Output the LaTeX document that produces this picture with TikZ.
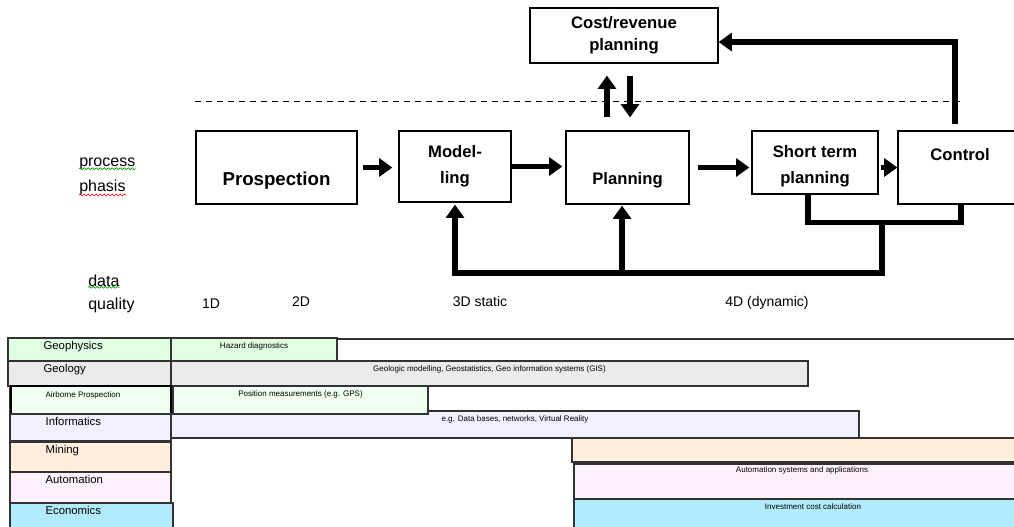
\documentclass[tikz,border=0pt]{standalone}
\usepackage{fontspec}
\setmainfont{Liberation Sans}
\usepackage{xcolor}
\usetikzlibrary{arrows.meta,positioning,decorations.pathmorphing}
\definecolor{cGeoph}{RGB}{224,255,224}
\definecolor{cGeol}{RGB}{235,235,235}
\definecolor{cAir}{RGB}{240,255,240}
\definecolor{cInf}{RGB}{240,240,255}
\definecolor{cMin}{RGB}{255,238,222}
\definecolor{cAut}{RGB}{255,240,254}
\definecolor{cEco}{RGB}{178,236,252}

\begin{document}
\begin{tikzpicture}[x=0.75pt,y=-0.75pt,
  box/.style={draw,line width=0.9pt,align=center,inner sep=0pt,font=\bfseries\fontsize{12.5}{19.5}\selectfont},
  arr/.style={line width=4.2pt,-{Triangle[length=10pt,width=13.5pt]}},
  fb/.style={line width=4.2pt},
  txt/.style={font=\fontsize{12}{14}\selectfont,anchor=base west,inner sep=0pt},
  dq/.style={font=\fontsize{10.5}{12}\selectfont,anchor=base,inner sep=0pt},
  squig/.style={draw=#1,line width=0.5pt,decorate,decoration={snake,amplitude=0.7pt,segment length=3pt}},
  lab/.style={draw=black!80,line width=1pt,fill=#1,inner sep=0pt},
  lt/.style={anchor=north west,inner sep=3pt,xshift=24pt,font=\fontsize{8.5}{10}\selectfont},
  bt/.style={anchor=north,inner sep=4pt,font=\fontsize{6}{7}\selectfont}]
\useasboundingbox (0,0) rectangle (1014,526);

% process phases
\node[box,minimum width=141pt,minimum height=41.25pt,font=\bfseries\fontsize{12.5}{16.5}\selectfont] (cost) at (624,35.5) {Cost/revenue\\planning};
\node[box,minimum width=120.75pt,minimum height=54.75pt,font=\bfseries\fontsize{14}{19.5}\selectfont] (prosp) at (276.5,167.5) {\vphantom{l}\\Prospection};
\node[box,minimum width=84pt,minimum height=53.25pt] (model) at (455,166.5) {Model-\\ling};
\node[box,minimum width=92.25pt,minimum height=54.75pt] (plan) at (627.5,167.5) {\vphantom{l}\\Planning};
\node[box,minimum width=94.5pt,minimum height=47.25pt] (short) at (815,162.5) {\rule{0pt}{15pt}Short term\\planning};
\node[box,minimum width=93pt,minimum height=54.75pt] (ctrl) at (960,167.5) {Control\\\vphantom{l}};

\draw[line width=0.75pt,dash pattern=on 4.5pt off 3.75pt] (195,101) -- (963,101);

\draw[arr,shorten <=3.75pt,shorten >=4.5pt] (prosp.east) -- (prosp.east -| model.west);
\draw[arr,shorten >=2.25pt] (model.east) -- (model.east -| plan.west);
\draw[arr,shorten <=6pt,shorten >=1.5pt] (plan.east) -- (plan.east -| short.west);
\draw[arr,shorten <=1.5pt] (short.east |- ctrl.west) -- (ctrl.west);

\coordinate (up1) at ([xshift=-15.4pt]plan.north);
\coordinate (dn1) at ([xshift=1.9pt]plan.north);
\draw[arr,shorten <=9.75pt,shorten >=9pt] (up1) -- (up1 |- cost.south);
\draw[arr,shorten <=9pt,shorten >=9.75pt] (dn1 |- cost.south) -- (dn1);
\coordinate (cc) at ([xshift=-3.75pt,yshift=4.5pt]ctrl.north);
\draw[arr] (cc) |- ([yshift=-4.9pt]cost.east);

% feedback
\coordinate (s1) at ([xshift=-5.25pt]short.south);
\draw[fb] (s1) -- ++(0,28) -| ([xshift=0.75pt]ctrl.south);
\coordinate (junc) at (882,222);
\coordinate (bot) at (882,273);
\coordinate (pl) at ([xshift=-4.1pt]plan.south);
\draw[arr,shorten >=1.5pt] (junc) -- (bot) -| (model.south);
\draw[arr,shorten >=0.75pt] (pl |- bot) -- (pl);

% side labels
\node[txt] (proc) at (79,166) {process};
\node[txt] (phas) at (79,191) {phasis};
\node[txt] (data) at (88,286) {data};
\node[txt] (qual) at (88,309) {quality};
\draw[squig=green!60!black] ([yshift=-2pt]proc.base west) -- ([yshift=-2pt]proc.base east);
\draw[squig=red] ([yshift=-3pt]phas.base west) -- ([yshift=-3pt]phas.base east);
\draw[squig=green!60!black] ([yshift=-1pt]data.base west) -- ([yshift=-1pt]data.base east);
\node[dq] (d1) at (211,308) {1D};
\node[dq] (d2) at (301,306) {2D};
\node[dq] (d3) at (480,306) {3D static};
\node[dq] (d4) at (767,306) {4D (dynamic)};

% disciplines
\draw[line width=1pt,draw=black!80,fill=white] (10,339) rectangle (1030,438);
\node[lab=cGeoph,minimum width=122.25pt,minimum height=17.25pt,label={[lt]north west:Geophysics}] (geoph) at (89.5,349.5) {};
\node[lab=cGeoph,minimum width=124.5pt,minimum height=17.25pt,label={[bt]north:Hazard diagnostics}] (hazard) at (254,349.5) {};
\node[lab=cGeol,minimum width=122.25pt,minimum height=18.75pt,label={[lt]north west:Geology}] (geol) at (89.5,373.5) {};
\node[lab=cGeol,minimum width=477.75pt,minimum height=18.75pt,label={[bt]north:Geologic modelling, Geostatistics, Geo information systems (GIS)}] (geolbar) at (489.5,373.5) {};
\node[lab=cInf,minimum width=516pt,minimum height=20.25pt,label={[bt]north:e.g. Data bases, networks, Virtual Reality}] (databar) at (515,424.5) {};
\node[lab=cAir,line width=1.5pt,draw=black,minimum width=120pt,minimum height=21pt,label={[lt,inner sep=4.5pt,xshift=-2pt,font=\fontsize{6}{7}\selectfont]north west:Airborne Prospection}] (air) at (91,400) {};
\node[lab=cAir,minimum width=191.25pt,minimum height=21pt,label={[bt]north:Position measurements (e.g. GPS)}] (posbar) at (300.5,400) {};
\node[lab=cInf,minimum width=120.75pt,minimum height=20.25pt,label={[lt]north west:Informatics}] (inf) at (90.5,427.5) {};
\node[lab=cMin,minimum width=120.75pt,minimum height=22.5pt,label={[lt]north west:Mining}] (mine) at (90.5,457) {};
\node[lab=cMin,minimum width=343.5pt,minimum height=18pt] (minbar) at (801,450) {};
\node[lab=cAut,minimum width=120.75pt,minimum height=23.25pt,label={[lt]north west:Automation}] (aut) at (90.5,487.5) {};
\node[lab=cAut,minimum width=342pt,minimum height=26.25pt,label={[bt,inner sep=2.5pt]north:Automation systems and applications}] (autbar) at (802,481.5) {};
\node[lab=cEco,minimum width=122.25pt,minimum height=20.25pt,label={[lt]north west:Economics}] (eco) at (91.5,516.5) {};
\node[lab=cEco,minimum width=358.5pt,minimum height=23.25pt,label={[bt]north:Investment cost calculation}] (ecobar) at (813,514.5) {};
\end{tikzpicture}
\end{document}
